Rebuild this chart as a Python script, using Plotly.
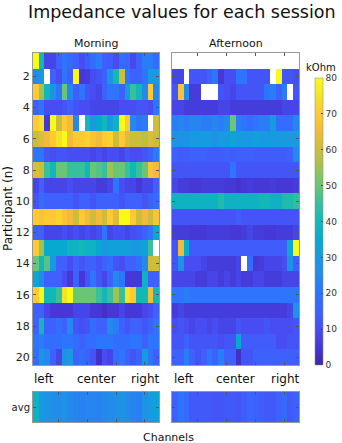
import numpy as np
import plotly.graph_objects as go

nan = np.nan
channels = list(range(1, 23))
participants = list(range(1, 21))

# impedance (kOhm), rows = participants 1..20, cols = channels 1..22
morning = [
    [80, 40, 8, 8, 15, 20, 17, 15, 10, 14, 18, 22, 15, 14, 10, 18, 16, 9, 15, 22, 22, 18],
    [25, 30, nan, 15, 10, 20, 15, 80, 5, 6, 10, 12, 15, 28, 40, 60, 20, 15, 15, 20, 30, 30],
    [70, 55, 40, 28, 20, 50, 25, 15, 20, 12, 10, 8, 15, 20, 20, 15, 30, 45, 40, 25, 70, 25],
    [15, 20, 10, 10, 10, 12, 15, 12, 10, 10, 8, 8, 8, 8, 8, 10, 10, 10, 12, 12, 10, 20],
    [70, 75, 5, 80, 60, 70, 65, 25, nan, 40, 30, 35, 40, 30, 38, 80, 70, 25, 20, 22, nan, 60],
    [60, 62, 65, 70, 75, 80, 65, 70, 70, 72, 68, 65, 70, 72, 60, 70, 62, 60, 60, 58, 62, 60],
    [20, 20, 12, 10, 12, 12, 10, 10, 10, 10, 8, 10, 8, 10, 10, 8, 12, 10, 10, 12, 15, 22],
    [62, 60, 45, 40, 50, 50, 45, 45, 45, 40, 50, 48, 45, 55, 50, 50, 45, 40, 45, 50, 68, 65],
    [8, 15, 8, 8, 8, 8, 10, 8, 8, 8, 8, 6, 6, 8, 20, 10, 8, 8, 5, 8, 8, 15],
    [12, 18, 15, 15, 15, 15, 15, 12, 15, 15, 12, 15, 15, 15, 15, 12, 15, 15, 15, 12, 15, 18],
    [70, 68, 70, 70, 72, 68, 65, 60, 70, 65, 60, 65, 60, 70, 62, 80, 80, 70, 60, 65, 60, 68],
    [15, 15, 8, 8, 8, 10, 8, 10, 8, 10, 8, 10, 20, 8, 10, 10, 8, 10, 12, 15, 20, 35],
    [70, 55, 35, 35, 35, 35, 38, 38, 40, 38, 38, 35, 30, 32, 32, 32, 32, 30, 30, 32, 45, nan],
    [50, 40, 48, 30, 15, 15, 10, 15, 12, 15, 15, 12, 15, 18, 12, 10, 15, 15, 18, 25, 60, 60],
    [35, 25, 15, 15, 15, 10, 5, 15, 5, 12, 20, 12, 8, 15, 25, 20, 5, 5, 5, 38, 15, 15],
    [70, 80, 40, 40, 45, 75, 80, 50, 50, 50, 50, 45, 40, 45, 55, 45, 75, 70, 40, 40, 65, 40],
    [15, 15, 8, 5, 5, 5, 5, 8, 8, 8, 5, 5, 3, 5, 5, 8, 5, 5, 5, 8, 10, 15],
    [15, 40, 15, 15, 18, 15, 25, 12, 10, 12, 18, 15, 15, 25, 22, 15, 12, 15, 15, 12, 15, 20],
    [20, 22, 18, 18, 18, 20, 20, 18, 15, 18, 18, 20, 20, 20, 18, 18, 18, 20, 20, 15, 20, 20],
    [18, 28, 25, 15, 8, 28, 30, 15, 18, 15, 12, 3, 10, 8, 18, 20, 15, 12, 15, 30, 20, 15],
]

afternoon = [
    [nan] * 22,
    [8, 8, nan, 12, 12, 12, 15, 20, 5, 10, 10, 20, 20, 12, 12, 12, 12, nan, 80, 12, 12, 10],
    [12, 68, 25, 6, 6, nan, nan, nan, 12, 10, 8, 12, 12, 12, 12, 12, 20, 22, 15, 22, nan, 12],
    [8, 8, 6, 6, 6, 6, 6, 6, 8, 8, 6, 6, 6, 6, 6, 6, 6, 6, 6, 8, 8, 8],
    [22, 24, 22, 24, 24, 22, 22, 24, 22, 25, 50, 22, 20, 18, 20, 22, 22, 30, 18, 18, 18, 24],
    [28, 28, 28, 30, 30, 30, 30, 28, 30, 30, 34, 30, 30, 30, 32, 30, 30, 30, 30, 30, 30, 30],
    [15, 14, 14, 15, 15, 15, 14, 14, 14, 15, 14, 15, 15, 15, 14, 14, 14, 14, 14, 14, 15, 25],
    [12, 12, 12, 12, 12, 12, 12, 12, 12, 12, 20, 12, 12, 12, 12, 12, 12, 12, 12, 12, 12, 12],
    [8, 6, 6, 5, 5, 6, 6, 6, 6, 5, 5, 4, 5, 6, 5, 5, 5, 6, 5, 5, 5, 6],
    [38, 38, 38, 38, 38, 38, 38, 38, 42, 38, 38, 38, 38, 38, 38, 40, 40, 38, 38, 42, 42, 44],
    [12, 12, 12, 12, 12, 12, 12, 12, 12, 12, 12, 14, 12, 12, 12, 12, 12, 12, 12, 12, 12, 12],
    [6, 6, 6, 5, 5, 5, 6, 6, 6, 6, 5, 5, 6, 8, 6, 6, 5, 5, 6, 6, 6, 8],
    [12, 65, 36, 14, 14, 14, 14, 14, 14, 14, 14, 14, 14, 14, 14, 14, 14, 14, 14, 14, 34, 80],
    [12, 28, 10, 10, 10, 8, 6, 6, 6, 6, 6, 8, nan, 18, 5, 6, 8, 8, 8, 10, 28, 15],
    [8, 8, 8, 8, 6, 6, 8, 8, 6, 8, 6, 8, 6, 6, 8, 8, 6, 6, 6, 8, 8, 8],
    [20, 20, 22, 20, 20, 20, 20, 20, 20, 20, 20, 20, 20, 20, 20, 20, 20, 20, 20, 20, 20, 20],
    [6, 8, 6, 6, 6, 6, 6, 6, 6, 6, 6, 6, 6, 6, 6, 6, 6, 6, 6, 6, 8, 28],
    [10, 12, 10, 8, 10, 10, 8, 10, 8, 8, 8, 12, 10, 10, 10, 10, 12, 10, 10, 10, 10, 12],
    [12, 12, 15, 12, 12, 12, 12, 12, 10, 12, 12, 35, 14, 14, 14, 14, 14, 14, 10, 10, 12, 12],
    [15, 15, 22, 15, 12, 15, 20, 15, 22, 15, 15, 3, 12, 12, 15, 15, 15, 15, 15, 15, 15, 15],
]

morning_avg = [38, 30, 28, 27, 26, 28, 25, 24, 23, 24, 24, 23, 25, 26, 27, 28, 26, 24, 22, 28, 30, 33]
afternoon_avg = [15, 20, 17, 13, 13, 13, 13, 12, 12, 13, 13, 12, 14, 16, 15, 14, 13, 13, 15, 17, 13, 15]

# parula-like colorscale
parula = [
    [0.0, "rgb(62,38,168)"], [0.0625, "rgb(69,56,214)"], [0.125, "rgb(71,77,242)"],
    [0.1875, "rgb(62,97,254)"], [0.25, "rgb(44,117,252)"], [0.3125, "rgb(36,137,236)"],
    [0.375, "rgb(24,154,224)"], [0.4375, "rgb(8,169,208)"], [0.5, "rgb(18,184,184)"],
    [0.5625, "rgb(56,191,156)"], [0.625, "rgb(105,198,117)"], [0.6875, "rgb(158,195,82)"],
    [0.75, "rgb(204,190,59)"], [0.8125, "rgb(242,187,59)"], [0.875, "rgb(254,201,51)"],
    [0.9375, "rgb(245,227,38)"], [1.0, "rgb(249,251,21)"],
]

FONT = "DejaVu Sans"
fig = go.Figure()

def hm(z, y, xa, ya, show):
    return go.Heatmap(
        z=z, x=channels, y=y, xaxis=xa, yaxis=ya,
        colorscale=parula, zmin=0, zmax=80, showscale=show, hoverongaps=False,
        colorbar=dict(x=315 / 342, xanchor="left", xpad=0, ypad=0,
                      y=1 - 365 / 443, yanchor="bottom", len=287 / 443,
                      thickness=8, outlinewidth=0.5, outlinecolor="#888",
                      tickvals=list(range(0, 81, 10)), ticks="inside", ticklen=2,
                      tickfont=dict(size=9, family=FONT, color="#333")),
    )

fig.add_trace(hm(morning, participants, "x", "y", True))
fig.add_trace(hm(afternoon, participants, "x2", "y2", False))
fig.add_trace(hm([morning_avg], [1], "x3", "y3", False))
fig.add_trace(hm([afternoon_avg], [1], "x4", "y4", False))

xl, xr = [33 / 342, 159 / 342], [172 / 342, 299 / 342]
ymain = [1 - 365 / 443, 1 - 53 / 443]
yavg = [1 - 422 / 443, 1 - 392 / 443]

ax_common = dict(showline=True, linecolor="#999", linewidth=1, mirror="ticks",
                 ticks="inside", ticklen=3, tickcolor="#555", showgrid=False,
                 zeroline=False, tickfont=dict(size=11, family=FONT, color="#222"))
xax = dict(range=[0.5, 22.5], tickvals=[5, 10, 15, 20], showticklabels=False, **ax_common)

fig.update_layout(
    width=342, height=443, margin=dict(l=0, r=0, t=0, b=0),
    paper_bgcolor="white", plot_bgcolor="white",
    xaxis=dict(domain=xl, anchor="y", **xax),
    xaxis2=dict(domain=xr, anchor="y2", **xax),
    xaxis3=dict(domain=xl, anchor="y3", **xax),
    xaxis4=dict(domain=xr, anchor="y4", **xax),
    yaxis=dict(domain=ymain, anchor="x", range=[20.5, 0.5], tickvals=list(range(2, 21, 2)), **ax_common),
    yaxis2=dict(domain=ymain, anchor="x2", range=[20.5, 0.5], tickvals=list(range(2, 21, 2)),
                showticklabels=False, **ax_common),
    yaxis3=dict(domain=yavg, anchor="x3", range=[1.5, 0.5], tickvals=[1], ticktext=["avg"], **ax_common),
    yaxis4=dict(domain=yavg, anchor="x4", range=[1.5, 0.5], tickvals=[1], showticklabels=False, **ax_common),
    showlegend=False,
)
fig.layout.yaxis3.tickfont.size = 10

def note(text, x, y, size, angle=0):
    fig.add_annotation(text=text, x=x / 342, y=1 - y / 443, xref="paper", yref="paper",
                       showarrow=False, textangle=angle, xanchor="center", yanchor="middle",
                       font=dict(size=size, family=FONT, color="#111"))

note("Impedance values for each session", 182, 12, 17.5)
note("Morning", 96, 43, 11)
note("Afternoon", 236, 43, 11)
note("kOhm", 321, 68, 10)
note("Participant (n)", 8, 209, 12, -90)
note("Channels", 168, 437, 11)
for x0 in (44, 184):
    note("left", x0, 379, 12)
for x0 in (96, 235):
    note("center", x0, 379, 12)
for x0 in (145, 285):
    note("right", x0, 379, 12)

fig.write_html("out.html", config={"displayModeBar": False},
               post_script="document.body.style.margin='0';document.body.style.overflow='hidden';")
